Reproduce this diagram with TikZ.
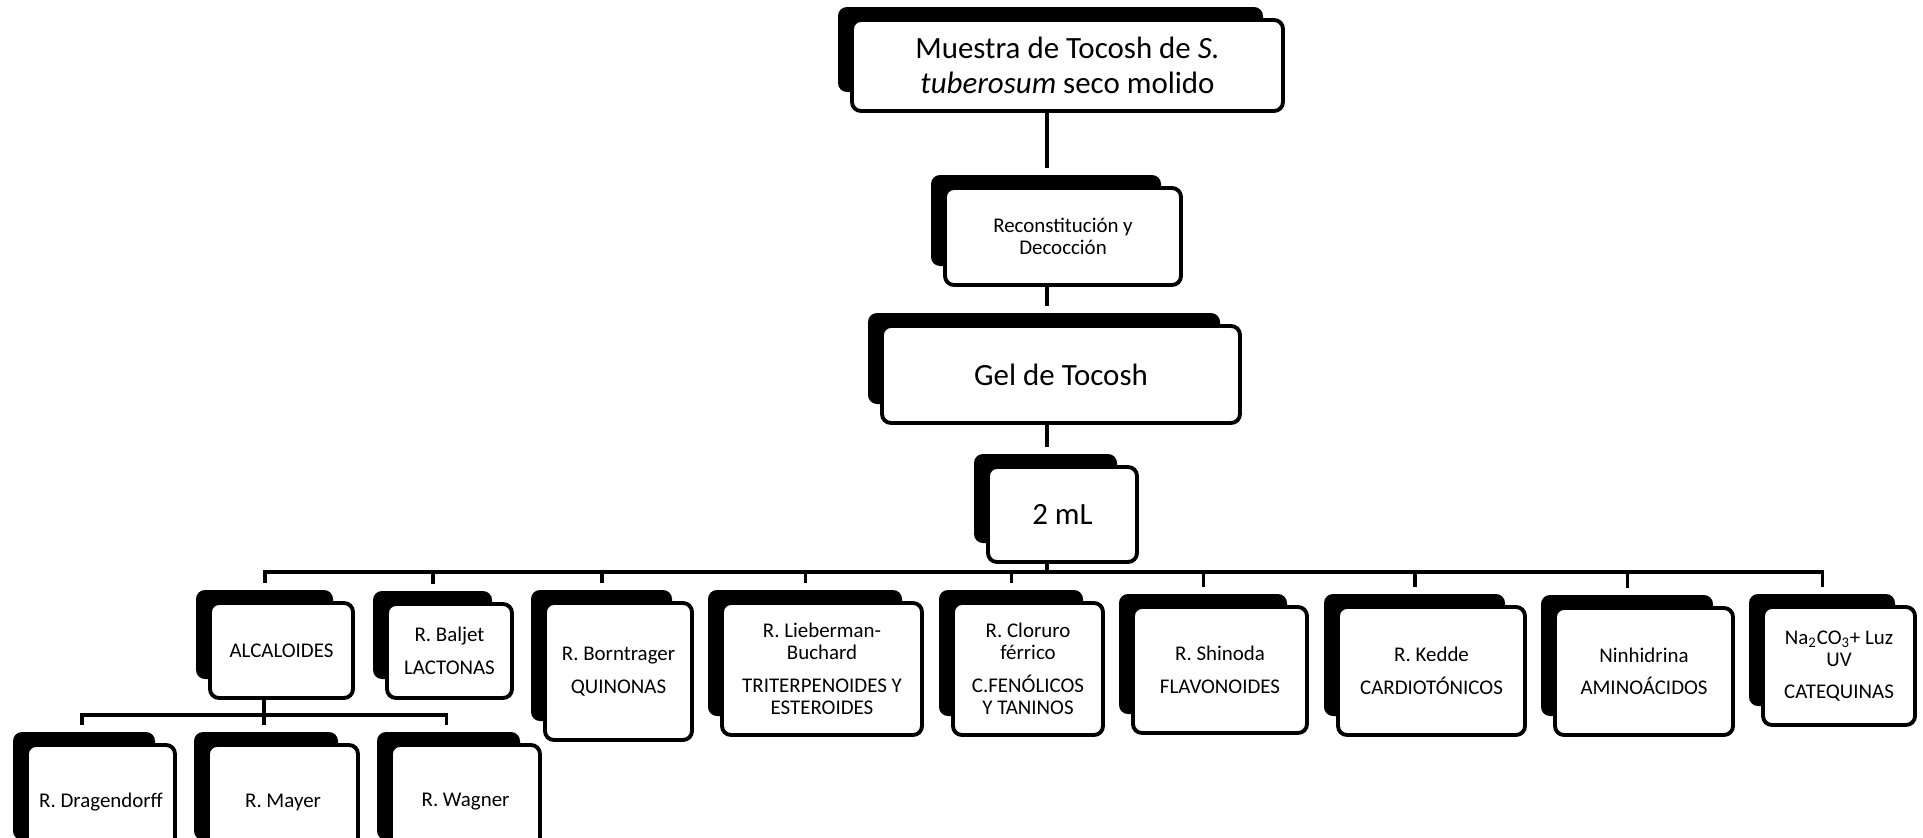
\documentclass[tikz,border=0pt]{standalone}
\usepackage{fontspec}
\setmainfont{Carlito}
\usetikzlibrary{backgrounds}

\begin{document}
\begin{tikzpicture}[
  caja/.style={draw=black,line width=2.2pt,fill=white,rounded corners=0.18cm,align=center,inner sep=0pt,outer sep=0pt,font=\fontsize{11.9}{12.5}\selectfont},
  grande/.style={font=\fontsize{17.6}{19.9}\selectfont},
  link/.style={black,line width=2pt},
  sombra/.style={fill=black,rounded corners=0.18cm}
]
\path[use as bounding box,clip] (0,0) rectangle (38.46,-16.74);
\node[caja,grande,minimum width=8.62cm,minimum height=1.82cm] (top) at (21.35,-1.31) {Muestra de Tocosh de \textit{S.}\\\textit{tuberosum} seco molido};
\node[caja,minimum width=4.72cm,minimum height=1.94cm] (rec) at (21.26,-4.73) {Reconstitución y\\Decocción};
\node[caja,grande,minimum width=7.16cm,minimum height=1.94cm] (gel) at (21.22,-7.49) {Gel de Tocosh};
\node[caja,grande,minimum width=2.98cm,minimum height=1.9cm] (ml) at (21.25,-10.29) {2 mL};
\node[caja,minimum width=2.86cm,minimum height=1.9cm] (alc) at (5.63,-13.01) {ALCALOIDES};
\node[caja,minimum width=2.5cm,minimum height=1.88cm] (bal) at (8.99,-13.02) {R. Baljet\\[6pt]LACTONAS};
\node[caja,minimum width=2.94cm,minimum height=2.74cm] (bor) at (12.37,-13.43) {R. Borntrager\\[6pt]QUINONAS};
\node[caja,minimum width=4cm,minimum height=2.64cm] (lib) at (16.44,-13.38) {R. Lieberman-\\Buchard\\[6pt]TRITERPENOIDES Y\\ESTEROIDES};
\node[caja,minimum width=3cm,minimum height=2.64cm] (clo) at (20.56,-13.38) {R. Cloruro\\férrico\\[6pt]C.FENÓLICOS\\Y TANINOS};
\node[caja,minimum width=3.48cm,minimum height=2.52cm] (shi) at (24.4,-13.4) {R. Shinoda\\[6pt]FLAVONOIDES};
\node[caja,minimum width=3.74cm,minimum height=2.56cm] (ked) at (28.63,-13.42) {R. Kedde\\[6pt]CARDIOTÓNICOS};
\node[caja,minimum width=3.56cm,minimum height=2.54cm] (nin) at (32.88,-13.43) {Ninhidrina\\[6pt]AMINOÁCIDOS};
\node[caja,minimum width=3.04cm,minimum height=2.36cm] (nac) at (36.78,-13.32) {Na\textsubscript{2}CO\textsubscript{3}+ Luz\\UV\\[6pt]CATEQUINAS};
\node[caja,minimum width=2.96cm,minimum height=2.28cm] (dra) at (2.02,-16.04) {R. Dragendorff};
\node[caja,minimum width=3cm,minimum height=2.28cm] (may) at (5.66,-16.04) {R. Mayer};
\node[caja,minimum width=2.98cm,minimum height=2.28cm] (wag) at (9.31,-16.04) {R. Wagner};

\begin{pgfonlayer}{background}
\foreach \n in {top,rec,gel,ml,alc,bal,bor,lib,clo,shi,ked,nin,nac,dra,may,wag}
  \fill[sombra] ([shift={(-0.28,0.26)}]\n.north west) rectangle ([shift={(-0.4,0.38)}]\n.south east);
\end{pgfonlayer}

\coordinate (spine) at (20.94,0);
\coordinate (bus) at (0,-11.44);
\coordinate (sub) at (0,-14.3);
\coordinate (alcdrop) at ([xshift=-3.5mm]alc.south);
\draw[link] (top.south -| spine) -- ([yshift=4mm]rec.north -| spine);
\draw[link] (rec.south -| spine) -- ([yshift=4mm]gel.north -| spine);
\draw[link] (gel.south -| spine) -- ([yshift=4mm]ml.north -| spine);
\draw[link] (ml.south -| spine) -- (bus -| spine);
\foreach \c in {alc,bal,bor,lib,clo,shi,ked,nin,nac}
  \draw[link] (bus -| spine) -| ([xshift=-3.3mm,yshift=4mm]\c.north);
\draw[link] (alcdrop) -- (alcdrop |- sub);
\foreach \c in {dra,may,wag}
  \draw[link] (alcdrop |- sub) -| ([xshift=-3.8mm,yshift=4mm]\c.north);
\end{tikzpicture}
\end{document}
